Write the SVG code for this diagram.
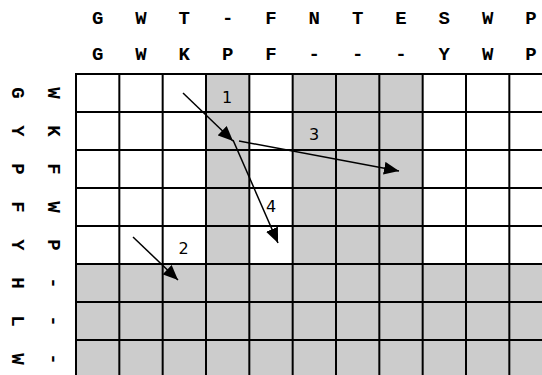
<svg xmlns="http://www.w3.org/2000/svg" width="542" height="375" viewBox="0 0 542 375">
<style>
.seq{font-family:"Liberation Mono","Courier New",monospace;font-weight:bold;font-size:19px;fill:#000;text-anchor:middle}
.num{font-family:"DejaVu Sans",sans-serif;font-size:16px;fill:#000;text-anchor:middle}
.gl{stroke:#000;stroke-width:2;fill:none}
.sh{fill:#cccccc;stroke:none}
.arr{stroke:#000;stroke-width:1.5;fill:none;marker-end:url(#ah)}
</style>
<defs>
<marker id="ah" markerUnits="userSpaceOnUse" markerWidth="16" markerHeight="13" refX="15" refY="6.5" orient="auto">
<path d="M0,0 L15,6.5 L0,13 z" fill="#000"/>
</marker>
</defs>
<rect width="542" height="375" fill="#fff"/>
<g id="top-seq">
<text class="seq" x="97.7" y="23.5">G</text>
<text class="seq" x="141" y="23.5">W</text>
<text class="seq" x="184.3" y="23.5">T</text>
<text class="seq" x="227.7" y="23.5">-</text>
<text class="seq" x="271" y="23.5">F</text>
<text class="seq" x="314.3" y="23.5">N</text>
<text class="seq" x="357.7" y="23.5">T</text>
<text class="seq" x="401" y="23.5">E</text>
<text class="seq" x="444.3" y="23.5">S</text>
<text class="seq" x="487.7" y="23.5">W</text>
<text class="seq" x="531" y="23.5">P</text>
<text class="seq" x="97.7" y="59.5">G</text>
<text class="seq" x="141" y="59.5">W</text>
<text class="seq" x="184.3" y="59.5">K</text>
<text class="seq" x="227.7" y="59.5">P</text>
<text class="seq" x="271" y="59.5">F</text>
<text class="seq" x="314.3" y="59.5">-</text>
<text class="seq" x="357.7" y="59.5">-</text>
<text class="seq" x="401" y="59.5">-</text>
<text class="seq" x="444.3" y="59.5">Y</text>
<text class="seq" x="487.7" y="59.5">W</text>
<text class="seq" x="531" y="59.5">P</text>
</g>
<g id="left-seq">
<text class="seq" transform="translate(11.7,93) rotate(90)">G</text>
<text class="seq" transform="translate(11.7,131) rotate(90)">Y</text>
<text class="seq" transform="translate(11.7,169) rotate(90)">P</text>
<text class="seq" transform="translate(11.7,207) rotate(90)">F</text>
<text class="seq" transform="translate(11.7,245) rotate(90)">Y</text>
<text class="seq" transform="translate(11.7,283) rotate(90)">H</text>
<text class="seq" transform="translate(11.7,321) rotate(90)">L</text>
<text class="seq" transform="translate(11.7,359) rotate(90)">W</text>
<text class="seq" transform="translate(48.3,93) rotate(90)">W</text>
<text class="seq" transform="translate(48.3,131) rotate(90)">K</text>
<text class="seq" transform="translate(48.3,169) rotate(90)">F</text>
<text class="seq" transform="translate(48.3,207) rotate(90)">W</text>
<text class="seq" transform="translate(48.3,245) rotate(90)">P</text>
<text class="seq" transform="translate(48.3,283) rotate(90)">-</text>
<text class="seq" transform="translate(48.3,321) rotate(90)">-</text>
<text class="seq" transform="translate(48.3,359) rotate(90)">-</text>
</g>
<g id="grid">
<rect class="sh" x="206" y="74" width="43.33" height="190"/>
<rect class="sh" x="292.67" y="74" width="130" height="190"/>
<rect class="sh" x="76" y="264" width="480" height="114"/>
<path class="gl" d="M76,74V378 M119.33,74V378 M162.67,74V378 M206,74V378 M249.33,74V378 M292.67,74V378 M336,74V378 M379.33,74V378 M422.67,74V378 M466,74V378 M509.33,74V378
M75,74H553 M75,112H553 M75,150H553 M75,188H553 M75,226H553 M75,264H553 M75,302H553 M75,340H553"/>
</g>
<g id="connectors">
<line class="arr" x1="183" y1="93" x2="233" y2="141"/>
<line class="arr" x1="239" y1="141" x2="399" y2="171"/>
<line class="arr" x1="233" y1="140" x2="278" y2="243"/>
<line class="arr" x1="133" y1="237" x2="178" y2="280"/>
</g>
<g id="labels">
<text class="num" x="227" y="103">1</text>
<text class="num" x="314" y="140">3</text>
<text class="num" x="271" y="212">4</text>
<text class="num" x="183.5" y="254">2</text>
</g>
</svg>
